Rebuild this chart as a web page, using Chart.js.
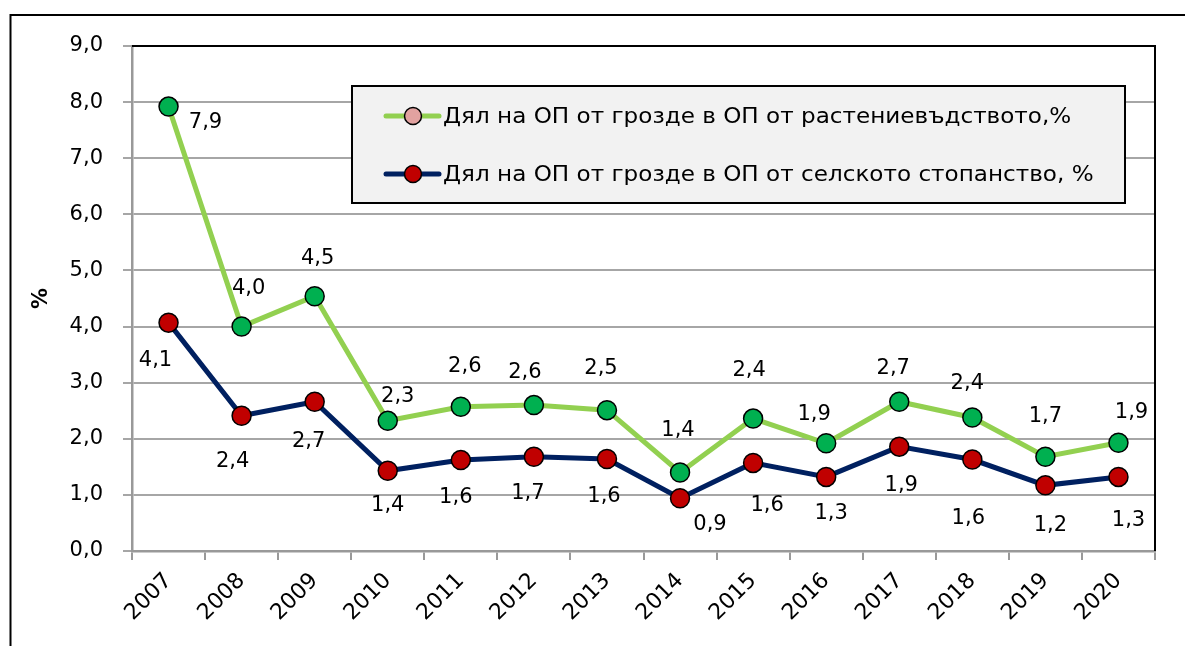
<!DOCTYPE html>
<html><head><meta charset="utf-8">
<script src="https://cdn.jsdelivr.net/npm/chart.js@4/dist/chart.umd.min.js"></script>
<style>html,body{margin:0;padding:0;background:#fff;}#wrap{width:1185px;height:646px;position:relative;}</style>
</head><body><div id="wrap"><canvas id="c" width="1185" height="646"></canvas></div>
<script>
const years = ['2007','2008','2009','2010','2011','2012','2013','2014','2015','2016','2017','2018','2019','2020'];
const seriesNames = ['Дял на ОП от грозде в ОП от растениевъдството,%', 'Дял на ОП от грозде в ОП от селското стопанство, %'];
const shareCrop = [7.92, 4.00, 4.54, 2.32, 2.57, 2.60, 2.51, 1.40, 2.36, 1.92, 2.66, 2.38, 1.68, 1.93];
const shareAgri = [4.07, 2.41, 2.66, 1.43, 1.62, 1.68, 1.64, 0.94, 1.57, 1.32, 1.86, 1.63, 1.17, 1.32];
const yMin = 0, yMax = 9, yStep = 1;
const yTitle = '%';
// label offsets relative to each point (style only)
const cropLabelOffsets = [[37,16],[7,-38],[3,-38],[10,-24],[4,-40],[-9,-33],[-6,-42],[-2,-42],[-4,-48],[-12,-29],[-6,-33],[-5,-34],[0,-40],[13,-30]];
const agriLabelOffsets = [[-13,38],[-9,46],[-6,40],[0,35],[-5,37],[-6,37],[-3,38],[30,26],[14,43],[5,37],[2,39],[-4,59],[5,40],[10,44]];

const FONT = 'DejaVu Sans';
const fmt = v => v.toFixed(1).replace('.', ',');

const framePlugin = {
  id: 'frame',
  beforeDraw(chart) {
    const ctx = chart.ctx;
    ctx.save();
    ctx.fillStyle = '#fff';
    ctx.fillRect(0, 0, chart.width, chart.height);
    ctx.strokeStyle = '#000';
    ctx.lineWidth = 2;
    ctx.beginPath();
    ctx.moveTo(10.5, chart.height);
    ctx.lineTo(10.5, 15);
    ctx.lineTo(chart.width, 15);
    ctx.stroke();
    ctx.restore();
  },
  beforeDatasetsDraw(chart) {
    const {ctx, chartArea: a} = chart;
    ctx.save();
    ctx.strokeStyle = '#000';
    ctx.lineWidth = 2;
    ctx.beginPath();
    ctx.moveTo(a.left, a.top);
    ctx.lineTo(a.right, a.top);
    ctx.lineTo(a.right, a.bottom);
    ctx.stroke();
    ctx.restore();
  },
  afterDatasetsDraw(chart) {
    const ctx = chart.ctx;
    ctx.save();
    ctx.font = '21px "' + FONT + '"';
    ctx.fillStyle = '#000';
    ctx.textAlign = 'center';
    ctx.textBaseline = 'middle';
    const offs = [cropLabelOffsets, agriLabelOffsets];
    chart.data.datasets.forEach((ds, di) => {
      const meta = chart.getDatasetMeta(di);
      meta.data.forEach((pt, i) => {
        const o = offs[di][i];
        ctx.fillText(fmt(ds.data[i]), pt.x + o[0], pt.y + o[1]);
      });
    });
    ctx.restore();
  },
  afterDraw(chart) {
    const ctx = chart.ctx;
    ctx.save();
    // legend box
    const bx = 352, by = 86, bw = 773, bh = 117;
    ctx.fillStyle = '#f2f2f2';
    ctx.fillRect(bx, by, bw, bh);
    ctx.strokeStyle = '#000';
    ctx.lineWidth = 2;
    ctx.strokeRect(bx, by, bw, bh);
    const rows = [116, 174];
    const markerFills = ['#e2a2a0', '#c00000'];
    chart.data.datasets.forEach((ds, di) => {
      const y = rows[di];
      ctx.strokeStyle = ds.borderColor;
      ctx.lineWidth = 5;
      ctx.lineCap = 'round';
      ctx.beginPath();
      ctx.moveTo(386, y);
      ctx.lineTo(439, y);
      ctx.stroke();
      ctx.beginPath();
      ctx.arc(413, y, 8.5, 0, Math.PI * 2);
      ctx.fillStyle = markerFills[di];
      ctx.fill();
      ctx.lineWidth = 1.5;
      ctx.strokeStyle = '#000';
      ctx.stroke();
      ctx.save();
      ctx.fillStyle = '#000';
      ctx.font = '22px "' + FONT + '"';
      ctx.textAlign = 'left';
      ctx.textBaseline = 'middle';
      ctx.translate(443, y + 1);
      ctx.scale(1.05, 1);
      ctx.fillText(ds.label, 0, 0);
      ctx.restore();
    });
    ctx.restore();
  }
};

new Chart(document.getElementById('c'), {
  type: 'line',
  data: {
    labels: years,
    datasets: [
      {label: seriesNames[0], data: shareCrop, borderColor: '#92d050', borderWidth: 5,
       pointBackgroundColor: '#00b050', pointBorderColor: '#000', pointBorderWidth: 1.5, pointRadius: 9.5, tension: 0},
      {label: seriesNames[1], data: shareAgri, borderColor: '#002060', borderWidth: 5,
       pointBackgroundColor: '#c00000', pointBorderColor: '#000', pointBorderWidth: 1.5, pointRadius: 9.5, tension: 0}
    ]
  },
  options: {
    responsive: false,
    devicePixelRatio: 1,
    animation: false,
    layout: {padding: {left: 0, top: 46, right: 30, bottom: 0}},
    plugins: {legend: {display: false}, tooltip: {enabled: false}},
    scales: {
      x: {
        offset: true,
        grid: {offset: true, drawOnChartArea: false, drawTicks: true, tickLength: 9, color: '#999', lineWidth: 2},
        border: {color: '#999', width: 2.5},
        ticks: {minRotation: 45, maxRotation: 45, padding: 8, color: '#000', font: {family: FONT, size: 22}},
        afterFit(s) { s.height = 95; }
      },
      y: {
        min: yMin, max: yMax,
        grid: {color: '#a6a6a6', lineWidth: 2, tickLength: 9, drawTicks: true},
        border: {color: '#999', width: 2.5},
        ticks: {stepSize: yStep, padding: 20, color: '#000', font: {family: FONT, size: 21}, callback: v => fmt(v)},
        title: {display: true, text: yTitle, color: '#000', font: {family: FONT, size: 21, weight: 'bold'}, padding: {top: 29, bottom: 0}},
        afterFit(s) { s.width = 132; }
      }
    }
  },
  plugins: [framePlugin]
});
</script></body></html>
